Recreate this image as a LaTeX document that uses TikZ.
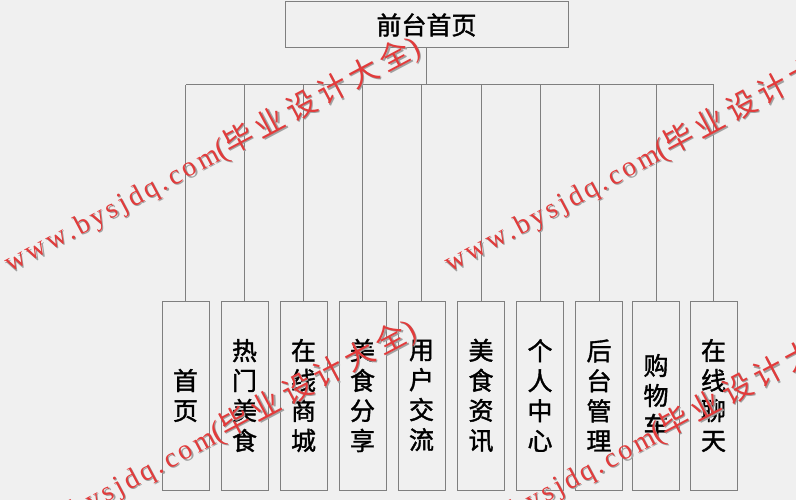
\documentclass[tikz,border=0pt]{standalone}
\usepackage{fontspec}
\newfontfamily\cjk{Noto Sans CJK SC}[FakeBold=1.5]
\newfontfamily\wmfont{Liberation Serif}[LetterSpace=12]
\newfontfamily\wmcjk{Noto Sans CJK SC}[LetterSpace=18]
\definecolor{bgc}{HTML}{F0F0F0}
\definecolor{linec}{HTML}{7F7F7F}
\definecolor{wmred}{HTML}{E23B3B}
\definecolor{wmshadow}{HTML}{A0A0A0}
\newcommand{\wmtext}{{\wmfont\fontsize{28}{30}\selectfont www.bysjdq.com}{\wmfont\fontsize{31}{30}\selectfont(}{\wmcjk\fontsize{30}{30}\selectfont 毕业设计大全}{\wmfont\fontsize{31}{30}\selectfont)}}
\begin{document}
\begin{tikzpicture}[x=1pt,y=-1pt,
  conn/.style={draw=linec, line width=1pt},
  topbox/.style={draw=linec, fill=bgc, line width=1pt, minimum width=283pt, minimum height=46pt, inner sep=0pt, font=\cjk\fontsize{25}{30}\selectfont},
  itembox/.style={draw=linec, fill=bgc, line width=1pt, minimum width=47pt, minimum height=189pt, inner sep=0pt, align=center, font=\cjk\fontsize{25}{30}\selectfont},
  wm/.style={text=wmred, rotate=28, anchor=base west, inner sep=0pt},
  wmsh/.style={wm, text=wmshadow}]
\useasboundingbox (0,0) rectangle (796,500);
\fill[bgc] (0,0) rectangle (796,500);
\node[topbox] (top) at (426.5,25) {前台首页};
\node[itembox] (b1) at (185.5,395.5) {首\\页};
\node[itembox] (b2) at (244.5,395.5) {热\\门\\美\\食};
\node[itembox] (b3) at (303.5,395.5) {在\\线\\商\\城};
\node[itembox] (b4) at (362.5,395.5) {美\\食\\分\\享};
\node[itembox] (b5) at (421.5,395.5) {用\\户\\交\\流};
\node[itembox] (b6) at (481,395.5) {美\\食\\资\\讯};
\node[itembox] (b7) at (540,395.5) {个\\人\\中\\心};
\node[itembox] (b8) at (599,395.5) {后\\台\\管\\理};
\node[itembox] (b9) at (656,395.5) {购\\物\\车};
\node[itembox] (b10) at (713.5,395.5) {在\\线\\聊\\天};
\coordinate (bus) at (426.5,85);
\draw[conn] (top.south) -- (top.south |- bus);
\draw[conn] (b1.north |- bus) -- (b10.north |- bus);
\foreach \b in {b1,b2,b3,b4,b5,b6,b7,b8,b9,b10}
  \draw[conn] (\b.north) -- (\b.north |- bus);
\foreach \n/\x/\y in {w1/10/273, w2/450/273, w3/6/556, w4/446/556} {
  \node[wmsh] (\n s) at (\x+1.2,\y+1.2) {\wmtext};
  \node[wm] (\n) at (\x,\y) {\wmtext};
}
\end{tikzpicture}
\end{document}
